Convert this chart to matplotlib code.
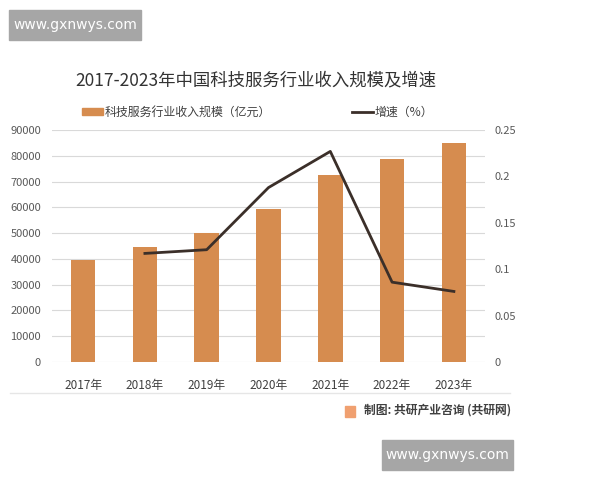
import matplotlib
matplotlib.use("Agg")
import matplotlib.pyplot as plt
from matplotlib.patches import Rectangle

plt.rcParams['font.family'] = ['Noto Sans CJK SC', 'DejaVu Sans']

years = ["2017年", "2018年", "2019年", "2020年", "2021年", "2022年", "2023年"]
revenue = [39700, 44600, 50000, 59200, 72700, 78800, 85100]
growth_years = ["2018年", "2019年", "2020年", "2021年", "2022年", "2023年"]
growth = [0.117, 0.121, 0.188, 0.227, 0.086, 0.076]
left_ticks = [0, 10000, 20000, 30000, 40000, 50000, 60000, 70000, 80000, 90000]
right_ticks = [0, 0.05, 0.1, 0.15, 0.2, 0.25]
right_labels = ["0", "0.05", "0.1", "0.15", "0.2", "0.25"]

bar_color = "#d68c4f"
line_color = "#3b2f29"
grid_color = "#d9d9d9"
tick_color = "#595959"

fig = plt.figure(figsize=(6, 4.8), dpi=100)
ax = fig.add_axes([0.087, 0.246, 0.721, 0.483])

x = list(range(len(years)))
ax.bar(x, revenue, width=0.4, color=bar_color, zorder=2)
ax.set_ylim(0, 90000)
ax.set_xlim(-0.5, len(years) - 0.5)
ax.set_yticks(left_ticks)
ax.set_yticklabels([str(v) for v in left_ticks], fontsize=8, color=tick_color)
ax.set_xticks(x)
ax.set_xticklabels(years, fontsize=8.5, color="#404040")
ax.tick_params(axis='both', length=0)
ax.tick_params(axis='x', pad=12)
ax.tick_params(axis='y', pad=8)
ax.grid(axis='y', color=grid_color, linewidth=0.8, zorder=0)
for s in ax.spines.values():
    s.set_visible(False)

ax2 = ax.twinx()
gx = [years.index(y) for y in growth_years]
ax2.plot(gx, growth, color=line_color, linewidth=2, zorder=3)
ax2.set_ylim(0, 0.25)
ax2.set_yticks(right_ticks)
ax2.set_yticklabels(right_labels, fontsize=8, color=tick_color)
ax2.tick_params(axis='y', length=0, pad=7)
for s in ax2.spines.values():
    s.set_visible(False)

# title
fig.text(0.427, 0.833, "2017-2023年中国科技服务行业收入规模及增速", ha='center', va='center',
         fontsize=12.5, color="#333333")

# legend
fig.patches.append(Rectangle((0.137, 0.760), 0.035, 0.014, transform=fig.transFigure,
                             color=bar_color))
fig.text(0.174, 0.767, "科技服务行业收入规模（亿元）", ha='left', va='center', fontsize=8.6,
         color="#404040")
fig.lines.append(plt.Line2D([0.587, 0.622], [0.767, 0.767], transform=fig.transFigure,
                            color=line_color, linewidth=2))
fig.text(0.624, 0.767, "增速（%）", ha='left', va='center', fontsize=8.6, color="#404040")

# separator and source
fig.lines.append(plt.Line2D([0.017, 0.85], [0.181, 0.181], transform=fig.transFigure,
                            color="#e6e6e6", linewidth=1))
fig.patches.append(Rectangle((0.575, 0.132), 0.017, 0.022, transform=fig.transFigure,
                             color="#f0a070"))
fig.text(0.606, 0.145, "制图: 共研产业咨询 (共研网)", ha='left', va='center', fontsize=8.5,
         fontweight='bold', color="#404040")

# url boxes
fig.patches.append(Rectangle((0.015, 0.917), 0.22, 0.063, transform=fig.transFigure,
                             color="#a6a6a6"))
fig.text(0.125, 0.948, "www.gxnwys.com", ha='center', va='center', fontsize=10,
         color="white", family="DejaVu Sans")
fig.patches.append(Rectangle((0.637, 0.021), 0.218, 0.063, transform=fig.transFigure,
                             color="#a6a6a6"))
fig.text(0.746, 0.052, "www.gxnwys.com", ha='center', va='center', fontsize=10,
         color="white", family="DejaVu Sans")

fig.savefig("out.png", dpi=100)
